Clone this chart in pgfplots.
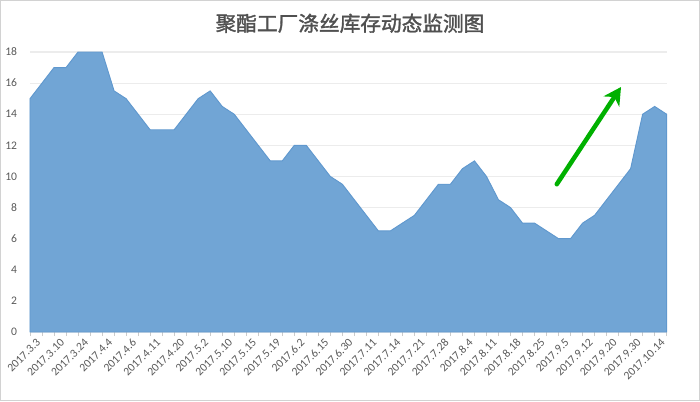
\documentclass[border=0pt]{standalone}
\usepackage{fontspec}
\setmainfont{Carlito}
\newfontfamily\cjk[FakeBold=1.6]{Noto Sans CJK SC}
\usepackage{pgfplots}
\pgfplotsset{compat=1.18}
\usetikzlibrary{arrows.meta}
\definecolor{areablue}{RGB}{113,165,213}
\definecolor{areaedge}{RGB}{96,152,206}
\definecolor{gridgray}{RGB}{236,236,236}
\definecolor{labgray}{RGB}{89,89,89}
\definecolor{arrowgreen}{RGB}{0,176,0}
\begin{document}
\begin{tikzpicture}
\path[use as bounding box] (-22.5pt,-51.75pt) rectangle (502.5pt,249pt);
\begin{axis}[
  at={(0,0)}, anchor=origin,
  scale only axis,
  width=477.5pt, height=210pt,
  xmin=0, xmax=53, ymin=0, ymax=18,
  enlargelimits=false,
  clip=false,
  axis line style={draw=none},
  xtick pos=bottom, ytick pos=left,
  ytick={0,2,...,18},
  ytick style={draw=none},
  ymajorgrids,
  grid style={color=gridgray, line width=0.8pt},
  xtick={0,2,...,52},
  minor xtick={1,3,...,53},
  xticklabels={2017.3.3,2017.3.10,2017.3.24,2017.4.4,2017.4.6,2017.4.11,2017.4.20,2017.5.2,2017.5.10,2017.5.15,2017.5.19,2017.6.2,2017.6.15,2017.6.30,2017.7.11,2017.7.14,2017.7.21,2017.7.28,2017.8.4,2017.8.11,2017.8.18,2017.8.25,2017.9.5,2017.9.12,2017.9.20,2017.9.30,2017.10.14},
  tick align=outside,
  major tick length=3pt, minor tick length=3pt,
  xtick style={color=gridgray!70!gray, line width=0.6pt},
  minor x tick style={color=gridgray!70!gray, line width=0.6pt},
  /pgf/number format/assume math mode=true,
  ticklabel style={font=\fontsize{8.7}{10}\selectfont, text=labgray},
  xticklabel style={rotate=45, anchor=east, inner sep=0pt, yshift=-7pt, xshift=2pt},
  yticklabel style={anchor=east, inner sep=0pt, xshift=-6.5pt},
]
\addplot[fill=areablue, draw=areaedge, line width=0.7pt] table {
x y
0 15
1 16
2 17
3 17
4 18
5 18
6 18
7 15.5
8 15
9 14
10 13
11 13
12 13
13 14
14 15
15 15.5
16 14.5
17 14
18 13
19 12
20 11
21 11
22 12
23 12
24 11
25 10
26 9.5
27 8.5
28 7.5
29 6.5
30 6.5
31 7
32 7.5
33 8.5
34 9.5
35 9.5
36 10.5
37 11
38 10
39 8.5
40 8
41 7
42 7
43 6.5
44 6
45 6
46 7
47 7.5
48 8.5
49 9.5
50 10.5
51 14
52 14.5
53 14
} \closedcycle;
\draw[arrowgreen, line width=3.4pt, line cap=round, -{Stealth[length=13pt,width=14pt,inset=4pt]}] (axis cs:43.85,9.5) -- (axis cs:49.2,15.75);
\end{axis}
\node[font=\cjk\fontsize{15.5}{18}\selectfont, text=labgray!90!black] at (240pt,231.5pt) {聚酯工厂涤丝库存动态监测图};
\draw[color=gray!35, line width=0.8pt] (-22.1pt,-51.35pt) rectangle (502.1pt,248.6pt);
\end{tikzpicture}
\end{document}
